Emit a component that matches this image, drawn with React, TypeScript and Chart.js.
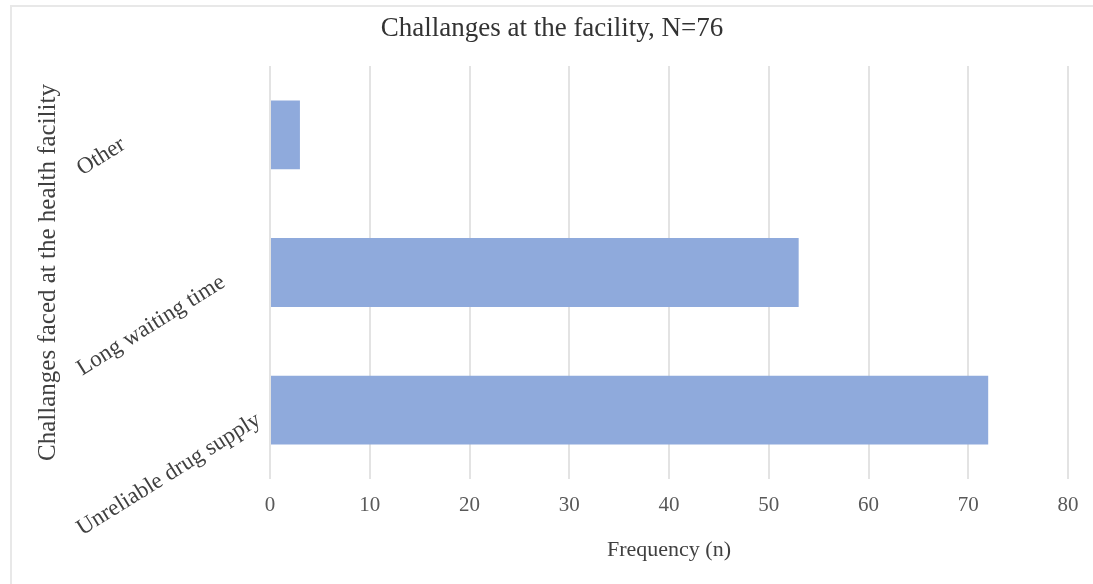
import React, { useEffect, useRef } from "react";
import { Chart, registerables } from "chart.js";

Chart.register(...registerables);

const categories: string[] = ["Other", "Long waiting time", "Unreliable drug supply"];
const frequencies: number[] = [3, 53, 72];
const xTickMin = 0;
const xTickMax = 80;
const xTickStep = 10;
const chartTitle = "Challanges at the facility, N=76";
const xTitle = "Frequency (n)";
const yTitle = "Challanges faced at the health facility";

const SERIF = "'Liberation Serif', 'Times New Roman', serif";

const rotatedCategoryLabels = {
  id: "rotatedCategoryLabels",
  afterDraw(chart: any) {
    const y = chart.scales.y;
    const ctx = chart.ctx as CanvasRenderingContext2D;
    const labels = chart.data.labels as string[];
    const angle = (32 * Math.PI) / 180;
    ctx.save();
    ctx.font = `23px ${SERIF}`;
    ctx.fillStyle = "#404040";
    ctx.textAlign = "left";
    ctx.textBaseline = "middle";
    labels.forEach((lab, i) => {
      const cy = y.getPixelForTick(i);
      const w = ctx.measureText(lab).width;
      const x0 = 79;
      const y0 = cy + 8 + w * Math.sin(angle);
      ctx.save();
      ctx.translate(x0, y0);
      ctx.rotate(-angle);
      ctx.fillText(lab, 0, 0);
      ctx.restore();
    });
    ctx.restore();
  },
};

export default function App() {
  const ref = useRef<HTMLCanvasElement | null>(null);
  useEffect(() => {
    if (!ref.current) return;
    const chart = new Chart(ref.current, {
      type: "bar",
      data: {
        labels: categories,
        datasets: [
          {
            data: frequencies,
            backgroundColor: "#8faadc",
            borderWidth: 0,
            barPercentage: 0.5,
            categoryPercentage: 1,
          },
        ],
      },
      options: {
        indexAxis: "y",
        animation: false,
        responsive: false,
        devicePixelRatio: 1,
        layout: { padding: { left: 36, top: 0, right: 25, bottom: 0 } },
        plugins: {
          legend: { display: false },
          tooltip: { enabled: false },
          title: {
            display: true,
            text: chartTitle,
            color: "#333333",
            font: { family: SERIF, size: 27, weight: "normal" },
            padding: { top: 13, bottom: 20.6 },
          },
        },
        scales: {
          x: {
            min: xTickMin,
            max: xTickMax,
            ticks: {
              stepSize: xTickStep,
              color: "#595959",
              font: { family: SERIF, size: 21 },
              padding: 14,
            },
            grid: { color: "#e3e3e3", lineWidth: 2, drawTicks: false },
            border: { display: false },
            title: {
              display: true,
              text: xTitle,
              color: "#404040",
              font: { family: SERIF, size: 22 },
              padding: { top: 0, bottom: 21 },
            },
            afterFit: (scale: any) => {
              scale.height = 105;
            },
          },
          y: {
            ticks: { display: false },
            grid: { display: false },
            border: { display: false },
            title: {
              display: true,
              text: yTitle,
              color: "#404040",
              font: { family: SERIF, size: 25 },
              padding: { top: -3, bottom: 0 },
            },
            afterFit: (scale: any) => {
              scale.width = 234;
            },
          },
        },
      },
      plugins: [rotatedCategoryLabels],
    });
    return () => chart.destroy();
  }, []);

  return (
    <div
      style={{
        position: "fixed",
        left: 0,
        top: 0,
        width: 1093,
        height: 584,
        background: "#ffffff",
        overflow: "hidden",
      }}
    >
      <canvas ref={ref} width={1093} height={584} style={{ position: "absolute", left: 0, top: 0 }} />
      <div
        style={{
          position: "absolute",
          left: 10,
          top: 5,
          width: 1200,
          height: 700,
          borderTop: "2px solid #e8e8e8",
          borderLeft: "2px solid #e8e8e8",
          pointerEvents: "none",
        }}
      />
    </div>
  );
}
